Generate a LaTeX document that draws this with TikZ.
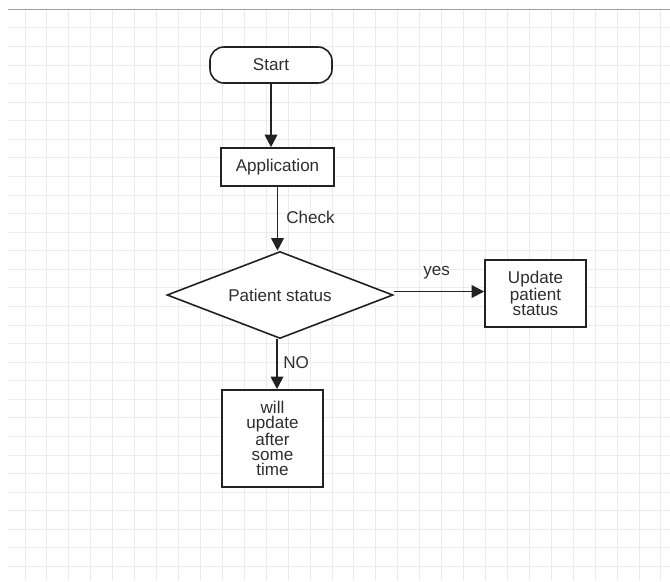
\documentclass[tikz,border=0pt]{standalone}
\usepackage{fontspec}
\setmainfont{Liberation Sans}
\usetikzlibrary{arrows.meta,shapes.geometric,calc}
\definecolor{gridc}{HTML}{EBEBEB}
\definecolor{ink}{HTML}{222222}
\definecolor{txt}{HTML}{2E2E2E}
\definecolor{topline}{HTML}{A0A0A0}
\begin{document}
\begin{tikzpicture}[x=0.75pt,y=-0.75pt,
  every node/.style={font=\fontsize{12.8}{11.3}\selectfont, text=txt, align=center},
  boxnode/.style={draw=ink, line width=1.2pt, fill=white, rectangle, inner sep=0pt},
  arr/.style={draw=ink, line width=1.4pt, -{Triangle[length=9.5pt,width=9.5pt]}},
  lbl/.style={anchor=west, inner sep=0pt}]
\useasboundingbox (0,0) rectangle (670,581);
\fill[white] (0,0) rectangle (670,581);
% grid
\foreach \k in {0,...,29} {
  \draw[gridc, line width=0.75pt] ({25+21.93*\k},10) -- ({25+21.93*\k},581);
  \draw[gridc, line width=0.75pt] (8,{28+18.57*\k}) -- (670,{28+18.57*\k});
}
\draw[topline, line width=0.9pt] (8,9.5) -- (670,9.5);
% nodes
\node[boxnode, rounded corners=10.5pt, minimum width=91.5pt, minimum height=27pt] (start) at (271,65) {Start};
\node[boxnode, minimum width=84.75pt, minimum height=28.5pt] (app) at (277.5,167) {Application};
\node[diamond, draw=ink, line width=1.2pt, fill=white, inner sep=0pt, aspect=2.6,
      minimum width=169.5pt, minimum height=65.25pt] (dia) at (280,295) {Patient status};
\node[boxnode, minimum width=75.75pt, minimum height=50.25pt] (upd) at (535.5,293.5) {Update\\patient\\status};
\node[boxnode, minimum width=75.75pt, minimum height=72.75pt] (will) at (272.5,438.5) {will\\update\\after\\some\\time};
% connectors
\draw[arr] (start.south) -- (start.south |- app.north);
\draw[arr] (app.south) -- (app.south |- dia.north);
\coordinate (ye) at ([yshift=2.6pt]dia.east);
\draw[arr] (ye) -- (ye -| upd.west);
\coordinate (no) at ([xshift=-2.25pt]dia.south);
\draw[arr] (no) -- (no |- will.north);
% labels
\node[lbl] (lcheck) at (286,217) {Check};
\node[lbl] (lyes) at (423,273) {yes};
\node[lbl] (lno) at (283,363) {NO};
\end{tikzpicture}
\end{document}
